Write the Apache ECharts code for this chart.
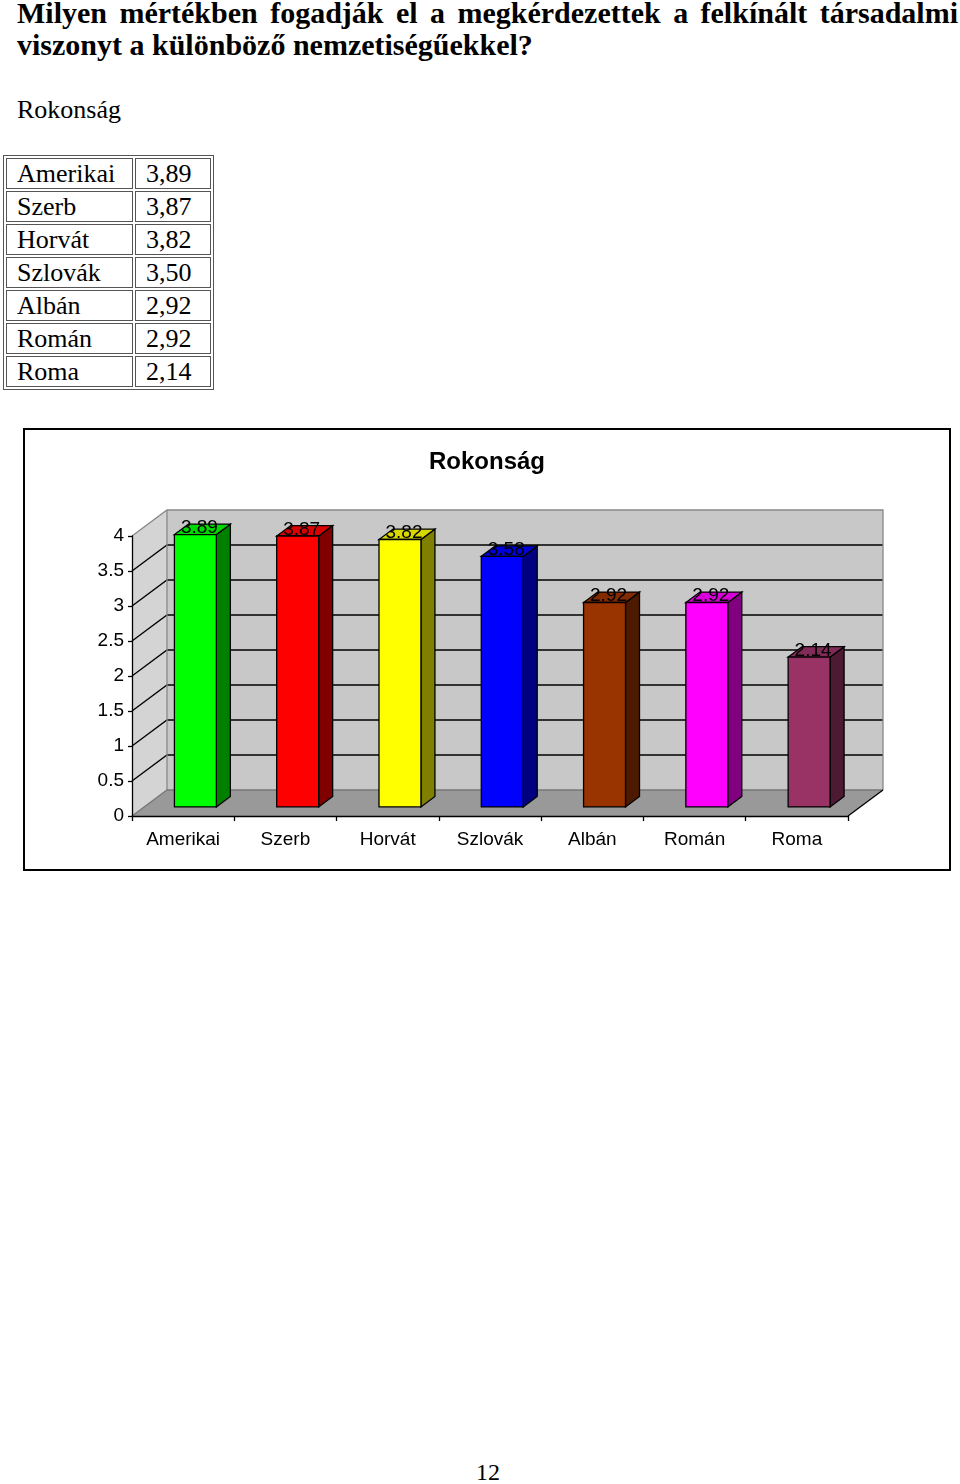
<!DOCTYPE html>
<html>
<head>
<meta charset="utf-8">
<script src="https://cdn.jsdelivr.net/npm/echarts@6/dist/echarts.min.js"></script>
<style>
  html, body { margin: 0; padding: 0; background: #fff; }
  body { width: 960px; height: 1484px; position: relative; overflow: hidden; font-family: "Liberation Serif", "Times New Roman", serif; color: #000; }
  .h1 { position: absolute; left: 17px; width: 941px; font-weight: bold; font-size: 30px; line-height: 32px; white-space: nowrap; }
  #l1 { top: -3px; text-align: justify; text-align-last: justify; }
  #l2 { top: 29px; }
  #sub { position: absolute; left: 17px; top: 95px; font-size: 26px; line-height: 30px; }
  #tbl { position: absolute; left: 3px; top: 155px; border: 1px solid #555; border-spacing: 2px; font-size: 26px; }
  #tbl td { border: 1px solid #555; height: 29px; padding: 0 0 0 10px; line-height: 29px; }
  #tbl td.c1 { width: 115px; }
  #tbl td.c2 { width: 64px; }
  #box { position: absolute; left: 23px; top: 428px; width: 924px; height: 439px; border: 2px solid #000; }
  #chart { width: 924px; height: 439px; }
  #page { position: absolute; left: 0; width: 976px; top: 1459px; text-align: center; font-size: 24px; }
</style>
</head>
<body>
<div class="h1" id="l1">Milyen mértékben fogadják el a megkérdezettek a felkínált társadalmi</div>
<div class="h1" id="l2">viszonyt a különböző nemzetiségűekkel?</div>
<div id="sub">Rokonság</div>
<table id="tbl"></table>
<div id="box"><div id="chart"></div></div>
<div id="page">12</div>
<script>
var categories = ['Amerikai', 'Szerb', 'Horvát', 'Szlovák', 'Albán', 'Román', 'Roma'];
var tableValues = ['3,89', '3,87', '3,82', '3,50', '2,92', '2,92', '2,14'];
var values = [3.89, 3.87, 3.82, 3.58, 2.92, 2.92, 2.14];
var labels = ['3.89', '3.87', '3.82', '3.58', '2.92', '2.92', '2.14'];

var frontColors = ['#00ff00', '#ff0000', '#ffff00', '#0000ff', '#993300', '#ff00ff', '#993366'];
var topColors = ['#00d800', '#d80000', '#d8d800', '#0000d8', '#822b00', '#d800d8', '#822b57'];
var sideColors = ['#008000', '#800000', '#808000', '#000080', '#4d1a00', '#800080', '#4d1a33'];

// table
var tbl = document.getElementById('tbl');
for (var i = 0; i < categories.length; i++) {
    var tr = document.createElement('tr');
    tr.innerHTML = '<td class="c1">' + categories[i] + '</td><td class="c2">' + tableValues[i] + '</td>';
    tbl.appendChild(tr);
}

var chart = echarts.init(document.getElementById('chart'));

var DX = 35, DY = -26;   // depth of the 3d box
var F0 = 0.35, F1 = 0.75; // bar depth position

function renderFrame(params, api) {
    var cs = params.coordSys;
    var x0 = cs.x, x1 = cs.x + cs.width;
    var y0 = api.coord([0, 0])[1];
    var y4 = api.coord([0, 4])[1];
    var ch = [];
    ch.push({ type: 'polygon', shape: { points: [[x0, y0], [x0, y4], [x0 + DX, y4 + DY], [x0 + DX, y0 + DY]] }, style: { fill: '#d4d4d4' } });
    ch.push({ type: 'rect', shape: { x: x0 + DX, y: y4 + DY, width: x1 - x0, height: y0 - y4 }, style: { fill: '#c8c8c8' } });
    ch.push({ type: 'polygon', shape: { points: [[x0, y0], [x1, y0], [x1 + DX, y0 + DY], [x0 + DX, y0 + DY]] }, style: { fill: '#999999' } });
    for (var v = 0.5; v < 4; v += 0.5) {
        var y = api.coord([0, v])[1];
        ch.push({ type: 'polyline', shape: { points: [[x0, y], [x0 + DX, y + DY], [x1 + DX, y + DY]] }, style: { stroke: '#000', lineWidth: 1.3, fill: null } });
    }
    var gray = { stroke: '#888', lineWidth: 1.3, fill: null };
    ch.push({ type: 'polyline', shape: { points: [[x0, y4], [x0 + DX, y4 + DY], [x1 + DX, y4 + DY], [x1 + DX, y0 + DY]] }, style: gray });
    ch.push({ type: 'line', shape: { x1: x0 + DX, y1: y4 + DY, x2: x0 + DX, y2: y0 + DY }, style: gray });
    ch.push({ type: 'polyline', shape: { points: [[x0, y0], [x0 + DX, y0 + DY], [x1 + DX, y0 + DY]] }, style: { stroke: '#777', lineWidth: 1.3, fill: null } });
    ch.push({ type: 'line', shape: { x1: x1, y1: y0, x2: x1 + DX, y2: y0 + DY }, style: { stroke: '#000', lineWidth: 1.3 } });
    return { type: 'group', children: ch };
}

function renderBar(params, api) {
    var i = api.value(0);
    var top = api.coord([i, api.value(1)]);
    var base = api.coord([i, 0]);
    var bw = api.size([1, 0])[0] * 0.41;
    var l = top[0] - bw / 2 + DX * F0, r = l + bw;
    var t = top[1] + DY * F0, b = base[1] + DY * F0;
    var sx = DX * (F1 - F0), sy = DY * (F1 - F0);
    var line = { stroke: '#000', lineWidth: 1.3 };
    return {
        type: 'group',
        children: [
            { type: 'polygon', shape: { points: [[r, t], [r + sx, t + sy], [r + sx, b + sy], [r, b]] }, style: Object.assign({ fill: sideColors[i] }, line) },
            { type: 'polygon', shape: { points: [[l, t], [r, t], [r + sx, t + sy], [l + sx, t + sy]] }, style: Object.assign({ fill: topColors[i] }, line) },
            { type: 'rect', shape: { x: l, y: t, width: bw, height: b - t }, style: Object.assign({ fill: frontColors[i] }, line) },
            { type: 'text', style: { text: labels[i], x: (l + r) / 2 + 4, y: t + 3, textAlign: 'center', textVerticalAlign: 'bottom', align: 'center', verticalAlign: 'bottom', fill: '#000', font: '19px "Liberation Sans", Arial, sans-serif' } }
        ]
    };
}

var option = {
    animation: false,
    title: {
        text: 'Rokonság',
        left: 'center',
        top: 15,
        textStyle: { fontFamily: '"Liberation Sans", Arial, sans-serif', fontWeight: 'bold', fontSize: 24, color: '#000' }
    },
    grid: { left: 107, right: 101, top: 106, bottom: 53 },
    xAxis: {
        type: 'category',
        data: categories,
        z: 5,
        axisLine: { lineStyle: { color: '#000', width: 1.3 } },
        axisTick: { show: true, length: 5, lineStyle: { color: '#000', width: 1.3 } },
        axisLabel: { color: '#000', fontSize: 19, margin: 14, fontFamily: '"Liberation Sans", Arial, sans-serif' }
    },
    yAxis: {
        type: 'value',
        min: 0,
        max: 4,
        interval: 0.5,
        z: 5,
        splitLine: { show: false },
        axisLine: { show: true, lineStyle: { color: '#000', width: 1.3 } },
        axisTick: { show: true, length: 4, lineStyle: { color: '#000', width: 1.3 } },
        axisLabel: { color: '#000', fontSize: 19, margin: 8, fontFamily: '"Liberation Sans", Arial, sans-serif' }
    },
    series: [
        {
            type: 'custom',
            z: 1,
            clip: false,
            silent: true,
            renderItem: renderFrame,
            data: [[0, 0]]
        },
        {
            type: 'custom',
            z: 3,
            clip: false,
            renderItem: renderBar,
            encode: { x: 0, y: 1 },
            data: values.map(function (v, i) { return [i, v]; })
        }
    ]
};

chart.setOption(option);
</script>
</body>
</html>
